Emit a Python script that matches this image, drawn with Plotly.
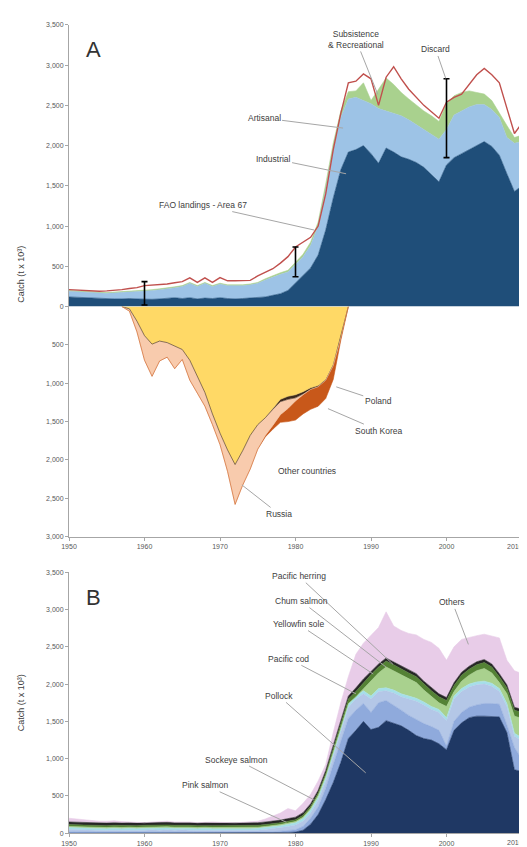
import plotly.graph_objects as go

# ---------------- data ----------------
years = list(range(1950, 2011))

# Panel A (upper): cumulative boundaries of stacked reconstructed catch (t x 10^3)
industrial_top = [120,115,110,105,100,100,95,95,100,95,
                  90,90,95,100,110,100,110,95,105,100,
                  110,100,95,100,105,110,120,140,160,200,
                  290,380,480,640,950,1350,1700,1920,1950,2000,
                  1900,1780,1970,1920,1860,1830,1790,1730,1640,1550,
                  1760,1850,1900,1950,2000,2050,1990,1880,1650,1430,
                  1500]
lightblue_top = [190,185,180,175,170,165,170,175,180,185,
                 190,200,210,220,235,250,290,250,290,250,
                 280,260,260,260,270,290,330,370,400,430,
                 520,620,760,1000,1450,1950,2350,2580,2600,2560,
                 2520,2460,2430,2400,2370,2320,2260,2200,2130,2080,
                 2200,2380,2430,2480,2510,2510,2450,2350,2100,2030,
                 2050]
green_top = [200,195,190,185,180,175,180,185,190,195,
             200,210,220,230,245,260,300,260,300,260,
             290,270,270,270,280,300,345,385,420,450,
             545,650,800,1050,1520,2030,2430,2670,2680,2780,
             2560,2700,2840,2760,2660,2580,2500,2430,2370,2300,
             2520,2620,2660,2680,2660,2640,2560,2400,2250,2100,
             2130]
fao_landings = [210,205,200,195,190,195,200,210,225,235,
                260,265,270,280,295,310,357,300,357,300,
                360,320,320,320,325,380,420,470,540,620,
                740,800,860,1000,1400,1950,2400,2780,2800,2890,
                2830,2500,2850,2980,2830,2700,2600,2500,2420,2340,
                2540,2600,2640,2760,2880,2960,2880,2780,2450,2150,
                2280]
err_years = [1960, 1980, 2000]
err_low = [20, 370, 1850]
err_high = [310, 740, 2830]

# Panel A (lower): foreign fleets, cumulative depth (t x 10^3)
lower_years = list(range(1957, 1988))
other_top = [0,30,190,380,490,450,470,510,560,700,
             900,1120,1400,1650,1870,2060,1880,1680,1540,1450,
             1330,1210,1170,1150,1110,1060,1030,950,760,400,
             0]
poland_top = [0,30,190,380,490,450,470,510,560,700,
              900,1120,1400,1650,1870,2060,1880,1680,1540,1450,
              1340,1240,1210,1190,1140,1080,1045,960,765,400,
              0]
russia_top = [0,60,330,700,910,710,660,810,690,960,
              1130,1300,1540,1800,2150,2580,2330,2120,1860,1680,
              1550,1410,1330,1230,1150,1080,1045,960,770,410,
              0]
korea_top = [0,60,330,700,910,710,660,810,690,960,
             1130,1300,1540,1800,2150,2580,2330,2120,1860,1700,
             1600,1510,1500,1480,1400,1340,1300,1200,950,440,
             0]

# Panel B: catch by taxon, cumulative boundaries (t x 10^3)
pollock_top = [0,0,0,0,0,0,0,0,0,0,
               0,0,0,0,0,0,0,0,0,0,
               0,0,0,0,0,0,0,5,8,10,
               15,40,120,250,450,680,950,1270,1380,1500,
               1390,1420,1510,1480,1440,1380,1310,1270,1250,1200,
               1120,1380,1480,1550,1570,1570,1570,1560,1350,850,
               830]
cod_top = [15,15,14,14,13,13,12,12,12,12,
           12,12,12,12,12,12,12,12,12,12,
           12,12,12,12,13,14,16,20,26,32,
           45,90,200,350,600,920,1230,1540,1650,1740,
           1620,1750,1780,1720,1650,1580,1520,1470,1430,1380,
           1170,1500,1620,1690,1720,1740,1740,1730,1450,1150,
           990]
pink_salmon_top = [50,45,40,45,40,35,40,35,40,35,
                   40,45,40,45,40,45,40,35,40,35,
                   35,35,30,35,35,40,50,60,75,90,
                   110,160,270,440,700,1030,1360,1690,1800,1870,
                   1800,1900,1910,1880,1830,1800,1770,1720,1660,1620,
                   1510,1800,1900,1960,1990,2000,1970,1900,1700,1300,
                   1240]
sockeye_top = [75,70,65,70,65,60,65,60,65,60,
               65,70,65,70,65,70,65,60,65,60,
               60,60,55,60,60,65,75,85,100,120,
               140,195,310,480,740,1070,1400,1730,1840,1910,
               1840,1940,1950,1920,1870,1840,1810,1760,1700,1660,
               1550,1840,1940,2000,2030,2040,2010,1940,1740,1340,
               1280]
yellowfin_top = [90,85,80,85,80,75,80,75,80,75,
                 80,85,80,85,80,85,80,75,80,75,
                 75,75,70,75,75,80,90,100,115,135,
                 155,215,330,510,770,1090,1420,1740,1830,1940,
                 2050,2150,2230,2180,2120,2070,2020,1920,1830,1750,
                 1700,1900,2040,2120,2180,2210,2150,2020,1870,1570,
                 1540]
chum_top = [115,110,105,110,105,100,105,100,105,100,
            105,110,105,110,105,110,105,100,105,100,
            100,100,95,100,100,105,115,125,140,160,
            180,240,360,540,800,1140,1480,1800,1900,2020,
            2130,2230,2310,2260,2200,2150,2100,2000,1910,1830,
            1780,1980,2120,2200,2260,2290,2230,2100,1950,1650,
            1620]
herring_top = [150,145,140,145,140,135,140,135,140,135,
               140,145,140,145,140,145,140,135,140,135,
               135,135,130,135,135,140,150,160,175,195,
               215,275,395,575,840,1180,1520,1840,1950,2070,
               2170,2270,2350,2300,2240,2190,2140,2040,1950,1870,
               1820,2020,2160,2240,2300,2330,2270,2140,1990,1690,
               1660]
others_top = [200,190,175,170,160,160,165,155,150,145,
              140,150,155,160,150,155,150,140,150,150,
              145,140,140,145,150,160,190,230,270,330,
              300,400,520,700,920,1350,1750,2100,2400,2550,
              2650,2760,2970,2780,2720,2680,2660,2600,2560,2480,
              2320,2500,2600,2630,2650,2670,2650,2620,2320,2180,
              2140]

x_ticks = [1950, 1960, 1970, 1980, 1990, 2000, 2010]
x_ticktext = ["1950", "1960", "1970", "1980", "1990", "2000", ""]
last_tick_label = "2010"

# ---------------- figure ----------------
W, H = 527, 847
L, R = 61, 13

def pyp(p):
    return 1 - p / H

def pxp(p):
    return (p - L) / (W - L - R)

fig = go.Figure()

def band(x, y, color, first, xa, ya, name):
    fig.add_trace(go.Scatter(
        x=x, y=y, mode="lines", name=name,
        line=dict(color=color, width=0.6),
        fill="tozeroy" if first else "tonexty",
        fillcolor=color, xaxis=xa, yaxis=ya,
        showlegend=False, hoverinfo="skip"))

# Panel A upper
band(years, industrial_top, "#1f4e79", True, "x", "y", "Industrial")
band(years, lightblue_top, "#9dc3e6", False, "x", "y", "Artisanal")
band(years, green_top, "#a9d18e", False, "x", "y", "Subsistence & Recreational")
fig.add_trace(go.Scatter(x=years, y=fao_landings, mode="lines",
                         line=dict(color="#c0504d", width=1.4),
                         xaxis="x", yaxis="y", showlegend=False))
fig.add_trace(go.Scatter(
    x=err_years, y=err_low, mode="markers",
    marker=dict(size=1, color="rgba(0,0,0,0)"),
    error_y=dict(type="data", symmetric=False,
                 array=[h - l for h, l in zip(err_high, err_low)],
                 arrayminus=[0, 0, 0], color="#000000",
                 thickness=1.6, width=3),
    xaxis="x", yaxis="y", showlegend=False))

# Panel A lower
band(lower_years, other_top, "#ffd966", True, "x", "y2", "Other countries")
band(lower_years, poland_top, "#3d2b1f", False, "x", "y2", "Poland")
band(lower_years, russia_top, "#f8cbad", False, "x", "y2", "Russia")
band(lower_years, korea_top, "#c8581a", False, "x", "y2", "South Korea")

# Panel B
band(years, pollock_top, "#1f3864", True, "x2", "y3", "Pollock")
band(years, cod_top, "#8faadc", False, "x2", "y3", "Pacific cod")
band(years, pink_salmon_top, "#b4c7e7", False, "x2", "y3", "Pink salmon")
band(years, sockeye_top, "#a6dfe9", False, "x2", "y3", "Sockeye salmon")
band(years, yellowfin_top, "#a9d18e", False, "x2", "y3", "Yellowfin sole")
band(years, chum_top, "#548235", False, "x2", "y3", "Chum salmon")
band(years, herring_top, "#262626", False, "x2", "y3", "Pacific herring")
band(years, others_top, "#e8cce8", False, "x2", "y3", "Others")

tickfont = dict(family="Liberation Sans, Arial, sans-serif", size=7, color="#595959")
axis_common = dict(showline=True, linecolor="#a6a6a6", linewidth=1,
                   ticks="outside", ticklen=3, tickcolor="#a6a6a6",
                   showgrid=False, zeroline=False, tickfont=tickfont)

fig.update_layout(
    width=W, height=H,
    margin=dict(l=L, r=R, t=0, b=0),
    paper_bgcolor="white", plot_bgcolor="white",
    showlegend=False,
    xaxis=dict(domain=[0, 1], range=[1950, 2010], anchor="y2",
               tickvals=x_ticks, ticktext=x_ticktext, **axis_common),
    yaxis=dict(domain=[pyp(297), pyp(13)], range=[0, 3500], anchor="x",
               tickvals=[0, 500, 1000, 1500, 2000, 2500, 3000, 3500],
               tickformat=",d", **axis_common),
    yaxis2=dict(domain=[pyp(529), pyp(297)], range=[3000, 0], anchor="x",
                tickvals=[500, 1000, 1500, 2000, 2500, 3000],
                tickformat=",d", **axis_common),
    xaxis2=dict(domain=[0, 1], range=[1950, 2010], anchor="y3",
                tickvals=x_ticks, ticktext=x_ticktext, **axis_common),
    yaxis3=dict(domain=[pyp(828), pyp(565)], range=[0, 3500], anchor="x2",
                tickvals=[0, 500, 1000, 1500, 2000, 2500, 3000, 3500],
                tickformat=",d", **axis_common),
)

lab_font = dict(family="Liberation Sans, Arial, sans-serif", size=8.5, color="#404040")
ann = []

def label(text, x, y, ax, ay, xref="x", yref="y", arrow=True):
    ann.append(dict(text=text, x=x, y=y, xref=xref, yref=yref,
                    showarrow=arrow, ax=ax, ay=ay, arrowhead=0,
                    arrowwidth=1, arrowcolor="#a6a6a6", standoff=0,
                    font=lab_font, align="center"))

# Panel A upper labels
label("FAO landings - Area 67", 1982.5, 950, -111, -25)
label("Industrial", 1986.7, 1650, -73, -15)
label("Artisanal", 1986.3, 2218, -79, -10)
label("Subsistence<br>& Recreational", 1990.9, 2636, -22, -55)
label("Discard", 1999.9, 2834, -10, -29)
# Panel A lower labels
label("Poland", 1985.4, 1047, 42, 14, "x", "y2")
label("South Korea", 1984.3, 1331, 51, 22, "x", "y2")
label("Other countries", 1981.5, 2145, 0, 0, "x", "y2", arrow=False)
label("Russia", 1972.9, 2326, 37, 29, "x", "y2")
# Panel B labels
label("Pacific herring", 1992.9, 2267, -94, -88, "x2", "y3")
label("Chum salmon", 1992.0, 2228, -85, -66, "x2", "y3")
label("Yellowfin sole", 1990.3, 2135, -75, -50, "x2", "y3")
label("Pacific cod", 1988.0, 1870, -67, -35, "x2", "y3")
label("Pollock", 1989.3, 809, -87, -77, "x2", "y3")
label("Sockeye salmon", 1982.4, 451, -77, -40, "x2", "y3")
label("Pink salmon", 1978.8, 146, -81, -37, "x2", "y3")
label("Others", 2002.9, 2533, -16, -42, "x2", "y3")

# last x tick label, kept inside the page
for yy in (529, 828):
    ann.append(dict(text=last_tick_label, x=1, y=pyp(yy), xref="paper", yref="paper",
                    showarrow=False, xanchor="right", yanchor="top",
                    xshift=3, yshift=-4, font=tickfont))

# Panel letters
for t, yy in (("A", 38), ("B", 590)):
    ann.append(dict(text=t, x=pxp(85), y=pyp(yy), xref="paper", yref="paper",
                    showarrow=False, xanchor="center", yanchor="middle",
                    font=dict(family="Liberation Sans, Arial, sans-serif",
                              size=22, color="#333333")))

# Y-axis titles
for yy in (265, 697):
    ann.append(dict(text="Catch (t x 10³)", x=pxp(13), y=pyp(yy),
                    xref="paper", yref="paper", showarrow=False,
                    textangle=-90, xanchor="center", yanchor="middle",
                    font=dict(family="Liberation Sans, Arial, sans-serif",
                              size=9, color="#404040")))

fig.update_layout(annotations=ann)
fig.write_html("out.html")
